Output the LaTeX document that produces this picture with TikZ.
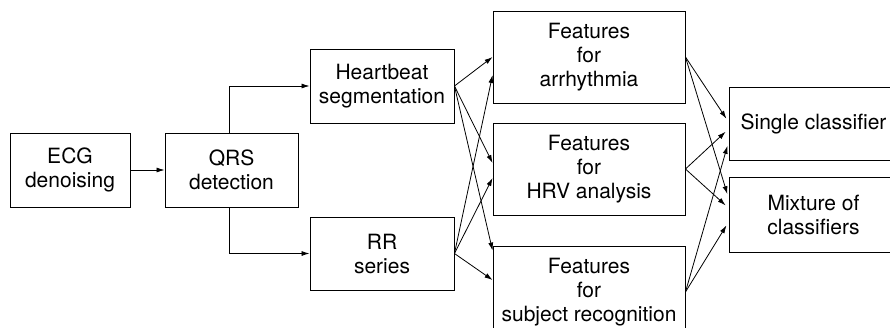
\documentclass[tikz,border=0pt]{standalone}
\usepackage{fontspec}
\setmainfont{TeX Gyre Heros}
\usetikzlibrary{arrows.meta,calc}
\tikzset{
  box/.style={draw, line width=0.9pt, inner sep=0pt, align=center, anchor=center,
    font=\fontsize{21}{24}\selectfont},
  conn/.style={line width=0.8pt, -{Latex[length=8pt,width=5pt]}},
}
\begin{document}
\begin{tikzpicture}[x=1pt,y=-1pt]
\useasboundingbox (0,0) rectangle (890,327);
\clip (0,0) rectangle (890,327);
\node[box, minimum width=120pt, minimum height=74pt] (ecg) at (70,170) {ECG\\denoising};
\node[box, minimum width=133pt, minimum height=74pt] (qrs) at (231.5,170) {QRS\\detection};
\node[box, minimum width=144pt, minimum height=74pt] (hb) at (382,86) {Heartbeat\\segmentation};
\node[box, minimum width=144pt, minimum height=73pt] (rr) at (382,253.5) {RR\\series};
\node[box, minimum width=192pt, minimum height=92pt] (fa) at (589,57) {Features\\for\\arrhythmia};
\node[box, minimum width=192pt, minimum height=92pt] (fh) at (589,169) {Features\\for\\HRV analysis};
\node[box, minimum width=192pt, minimum height=92pt] (fs) at (589,292) {Features\\for\\subject recognition};
\node[box, minimum width=169pt, minimum height=73pt] (sc) at (813.5,123.5) {Single classifier};
\node[box, minimum width=169pt, minimum height=75pt] (mc) at (813.5,214.5) {Mixture of\\classifiers};

\coordinate (qt) at ($(qrs.north)+(-2.5,0)$);
\coordinate (qb) at ($(qrs.south)+(-2.5,0)$);
\draw[conn] (ecg.east) -- (qrs.west);
\draw[conn] (qt) |- (hb.west);
\draw[conn] (qb) |- (rr.west);

\draw[conn] (hb.east) -- (fa.west);
\draw[conn] (rr.east) -- ($(fa.west)+(0,18)$);
\draw[conn] (hb.east) -- ($(fh.west)+(0,-6)$);
\draw[conn] (rr.east) -- ($(fh.west)+(0,9)$);
\draw[conn] (hb.east) -- ($(fs.north west)+(0,5)$);
\draw[conn] (rr.east) -- ($(fs.west)+(0,-12)$);

\draw[conn, shorten >=4pt] (fa.east) -- ($(sc.west)+(0,-1.5)$);
\draw[conn, shorten >=4pt] (fh.east) -- ($(sc.west)+(0,5.5)$);
\draw[conn, shorten >=4pt] (fs.east) -- ($(sc.west)+(0,18.5)$);
\draw[conn, shorten >=4pt] (fa.east) -- ($(mc.west)+(0,-16.5)$);
\draw[conn, shorten >=4pt] (fh.east) -- ($(mc.west)+(0,-6.5)$);
\draw[conn, shorten >=4pt] (fs.east) -- ($(mc.west)+(0,7.5)$);
\end{tikzpicture}
\end{document}
